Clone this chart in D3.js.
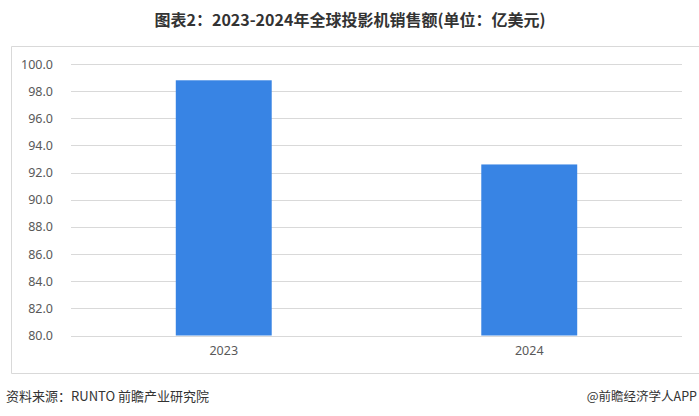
<!DOCTYPE html>
<html><head><meta charset="utf-8">
<script src="https://cdn.jsdelivr.net/npm/d3@7"></script>
<style>
body{margin:0;background:#fff;}
svg{display:block;font-family:"Microsoft YaHei","Noto Sans CJK SC",sans-serif;}
</style></head>
<body><svg id="c" width="699" height="416"></svg>
<script>
const categories = ["2023", "2024"];
const values = [98.8, 92.6];
const yTicks = [80, 82, 84, 86, 88, 90, 92, 94, 96, 98, 100];
const title = "图表2：2023-2024年全球投影机销售额(单位：亿美元)";
const source = "资料来源：RUNTO 前瞻产业研究院";
const credit = "@前瞻经济学人APP";

const svg = d3.select("#c");
const pLeft = 71, pRight = 682, pTop = 64, pBottom = 335.5;

// outer frame
svg.append("path").attr("d", "M699,46.5 H11.5 V373.5 H699")
  .attr("fill", "none").attr("stroke", "#d9d9d9").attr("stroke-width", 1);

const x = d3.scaleBand().domain(categories).range([pLeft, pRight]).paddingInner(0.686).paddingOuter(0.343);
const y = d3.scaleLinear().domain([80, 100]).range([pBottom, pTop]);

// grid lines
svg.append("g").selectAll("line").data(yTicks).join("line")
  .attr("x1", pLeft).attr("x2", pRight)
  .attr("y1", d => Math.round(y(d)) + 0.5).attr("y2", d => Math.round(y(d)) + 0.5)
  .attr("stroke", "#d9d9d9").attr("stroke-width", 1);

const tickFont = "'Noto Sans', 'Open Sans', sans-serif";

// y axis labels
const yAxis = d3.axisLeft(y).tickValues(yTicks).tickFormat(d3.format(".1f")).tickSize(0).tickPadding(0);
const ya = svg.append("g").attr("transform", "translate(53,0)").call(yAxis);
ya.select(".domain").remove();
ya.selectAll("text").attr("fill", "#595959").style("font-size", "12.5px").style("font-family", tickFont);

// bars
svg.append("g").selectAll("rect").data(values).join("rect")
  .attr("x", (d, i) => x(categories[i]))
  .attr("width", x.bandwidth())
  .attr("y", d => y(d))
  .attr("height", d => y(80) - y(d))
  .attr("fill", "#3884e4");

// x axis
const xAxis = d3.axisBottom(x).tickSize(0).tickPadding(11);
const xa = svg.append("g").attr("transform", `translate(0,${pBottom})`).call(xAxis);
xa.select(".domain").remove();
xa.selectAll("text").attr("fill", "#595959").style("font-size", "12.5px").style("font-family", tickFont);

// title
svg.append("text").attr("x", 350).attr("y", 26).attr("text-anchor", "middle")
  .attr("font-weight", "bold").attr("font-size", "16px").attr("fill", "#333").text(title);

// footer
svg.append("text").attr("x", 6).attr("y", 401).attr("font-size", "13px").attr("fill", "#333").text(source);
svg.append("text").attr("x", 697).attr("y", 401).attr("text-anchor", "end").attr("font-size", "12.5px").attr("fill", "#333").text(credit);
</script></body></html>
